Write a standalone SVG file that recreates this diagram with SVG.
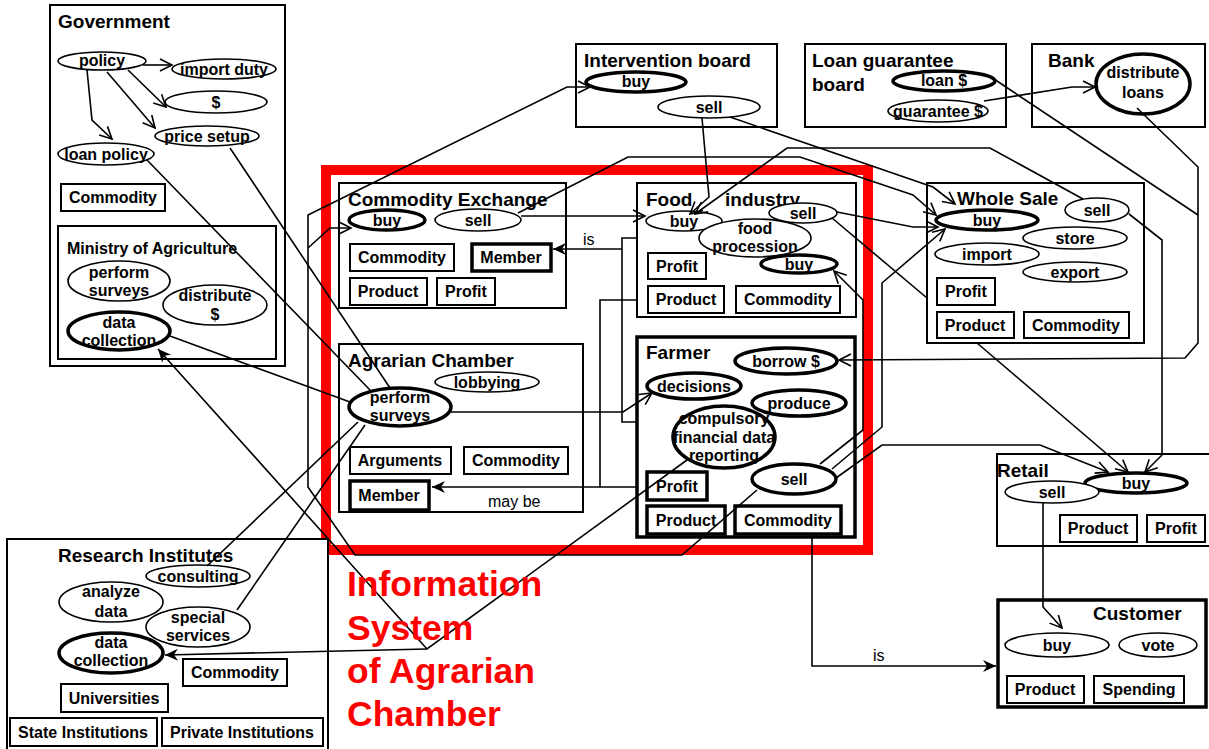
<svg xmlns="http://www.w3.org/2000/svg" width="1209" height="749" viewBox="0 0 1209 749">
<defs>
<style>
.box{fill:#fff;stroke:#000;stroke-width:2}
.tbox{fill:#fff;stroke:#000;stroke-width:3.5}
.el{fill:#fff;stroke:#000;stroke-width:1.6}
.tel{fill:#fff;stroke:#000;stroke-width:3.5}
text{font-family:"Liberation Sans",Arial,sans-serif}
.t{font-weight:bold;font-size:16px;text-anchor:middle}
.h{font-weight:bold;font-size:19px}
.h2{font-weight:bold;font-size:16px}
.lbl{font-size:16px}
.c{fill:none;stroke:#000;stroke-width:1.6}
.va{marker-end:url(#v)}
.sa{marker-end:url(#s)}
.red{fill:#f00;font-weight:bold;font-size:35.5px}
</style>
<marker id="v" viewBox="-14 -8 16 16" refX="0" refY="0" markerWidth="16" markerHeight="16" orient="auto" markerUnits="userSpaceOnUse">
<path d="M-12,-6 L0,0 L-12,6" fill="none" stroke="#000" stroke-width="1.6"/>
</marker>
<marker id="s" viewBox="-15 -8 16 16" refX="0" refY="0" markerWidth="16" markerHeight="16" orient="auto" markerUnits="userSpaceOnUse">
<path d="M0,0 L-13,-6 L-9,0 L-13,6 Z" fill="#000"/>
</marker>
</defs>
<rect width="1209" height="749" fill="#fff"/>

<!-- information system boundary -->
<rect id="is-frame" x="326" y="170" width="542" height="380" fill="none" stroke="#f00" stroke-width="10"/>

<g id="government">
<rect class="box" x="50" y="5" width="235" height="361"/>
<text class="h" x="58" y="28">Government</text>
<ellipse class="el" cx="102" cy="61" rx="44" ry="9"/><text class="t" x="102" y="66">policy</text>
<ellipse class="el" cx="224" cy="69" rx="52" ry="10"/><text class="t" x="224" y="75">import duty</text>
<ellipse class="el" cx="216" cy="102" rx="51" ry="11"/><text class="t" x="216" y="108">$</text>
<ellipse class="el" cx="207" cy="136" rx="52" ry="10"/><text class="t" x="207" y="142">price setup</text>
<ellipse class="el" cx="106" cy="154" rx="48" ry="11"/><text class="t" x="106" y="160">loan policy</text>
<rect class="box" x="61" y="184" width="104" height="27"/><text class="t" x="113" y="203">Commodity</text>
</g>

<g id="ministry">
<rect class="box" x="58" y="226" width="218" height="133"/>
<text class="h2" x="67" y="254">Ministry of Agriculture</text>
<ellipse class="el" cx="119" cy="281" rx="51" ry="20"/><text class="t" x="119" y="278">perform</text><text class="t" x="119" y="296">surveys</text>
<ellipse class="el" cx="215" cy="305" rx="52" ry="20"/><text class="t" x="215" y="301">distribute</text><text class="t" x="215" y="320">$</text>
<ellipse class="tel" cx="119" cy="331" rx="51" ry="19"/><text class="t" x="119" y="328">data</text><text class="t" x="119" y="346">collection</text>
</g>

<g id="intervention-board">
<rect class="box" x="576" y="44" width="201" height="83"/>
<text class="h" x="584" y="67">Intervention board</text>
<ellipse class="tel" cx="636" cy="82" rx="50" ry="10"/><text class="t" x="636" y="87">buy</text>
<ellipse class="el" cx="709" cy="107" rx="51" ry="11"/><text class="t" x="709" y="113">sell</text>
</g>

<g id="loan-guarantee-board">
<rect class="box" x="805" y="44" width="201" height="83"/>
<text class="h" x="812" y="67">Loan guarantee</text>
<text class="h" x="812" y="91">board</text>
<ellipse class="tel" cx="944" cy="81" rx="51" ry="10"/><text class="t" x="944" y="86">loan $</text>
<ellipse class="el" cx="938" cy="111" rx="50" ry="11"/><text class="t" x="938" y="117">guarantee $</text>
</g>

<g id="bank">
<rect class="box" x="1032" y="44" width="173" height="83"/>
<text class="h" x="1048" y="67">Bank</text>
<ellipse class="tel" cx="1143" cy="84" rx="47" ry="30"/><text class="t" x="1143" y="78">distribute</text><text class="t" x="1143" y="98">loans</text>
</g>

<g id="commodity-exchange">
<rect class="box" x="339" y="183" width="227" height="125"/>
<text class="h" x="348" y="206">Commodity Exchange</text>
<ellipse class="tel" cx="387" cy="220" rx="38" ry="10"/><text class="t" x="387" y="226">buy</text>
<ellipse class="el" cx="478" cy="220" rx="43" ry="11"/><text class="t" x="478" y="226">sell</text>
<rect class="box" x="350" y="244" width="104" height="27"/><text class="t" x="402" y="263">Commodity</text>
<rect class="tbox" x="472" y="244" width="79" height="27"/><text class="t" x="511" y="263">Member</text>
<rect class="box" x="350" y="278" width="77" height="27"/><text class="t" x="388" y="297">Product</text>
<rect class="box" x="437" y="278" width="58" height="27"/><text class="t" x="466" y="297">Profit</text>
</g>

<g id="agrarian-chamber">
<rect class="box" x="339" y="344" width="244" height="168"/>
<text class="h" x="348" y="367">Agrarian Chamber</text>
<ellipse class="el" cx="487" cy="382" rx="52" ry="10"/><text class="t" x="487" y="388">lobbying</text>
<ellipse class="tel" cx="400" cy="407" rx="51" ry="19"/><text class="t" x="400" y="403">perform</text><text class="t" x="400" y="421">surveys</text>
<rect class="box" x="350" y="447" width="101" height="27"/><text class="t" x="400" y="466">Arguments</text>
<rect class="box" x="464" y="447" width="104" height="27"/><text class="t" x="516" y="466">Commodity</text>
<rect class="tbox" x="350" y="481" width="79" height="29"/><text class="t" x="389" y="501">Member</text>
</g>

<g id="food-industry">
<rect class="box" x="637" y="183" width="219" height="134"/>
<text class="h" x="646" y="206">Food</text>
<text class="h" x="725" y="206">industry</text>
<ellipse class="el" cx="684" cy="221" rx="38" ry="10"/><text class="t" x="684" y="227">buy</text>
<ellipse class="el" cx="755" cy="238" rx="56" ry="19"/><text class="t" x="755" y="234">food</text><text class="t" x="755" y="252">procession</text>
<ellipse class="el" cx="803" cy="213" rx="34" ry="10"/><text class="t" x="803" y="219">sell</text>
<ellipse class="tel" cx="799" cy="264" rx="38" ry="9"/><text class="t" x="799" y="270">buy</text>
<rect class="box" x="648" y="253" width="58" height="26"/><text class="t" x="677" y="272">Profit</text>
<rect class="box" x="648" y="286" width="76" height="27"/><text class="t" x="686" y="305">Product</text>
<rect class="box" x="736" y="286" width="104" height="27"/><text class="t" x="788" y="305">Commodity</text>
</g>

<g id="farmer">
<rect class="tbox" x="637" y="337" width="218" height="200"/>
<text class="h" x="646" y="359">Farmer</text>
<ellipse class="tel" cx="786" cy="361" rx="51" ry="13"/><text class="t" x="786" y="367">borrow $</text>
<ellipse class="tel" cx="694" cy="386" rx="47" ry="13"/><text class="t" x="694" y="392">decisions</text>
<ellipse class="tel" cx="724" cy="437" rx="51" ry="31"/><text class="t" x="724" y="424">compulsory</text><text class="t" x="724" y="443">financial data</text><text class="t" x="724" y="461">reporting</text>
<ellipse class="tel" cx="799" cy="403" rx="47" ry="13"/><text class="t" x="799" y="409">produce</text>
<ellipse class="tel" cx="794" cy="479" rx="42" ry="15"/><text class="t" x="794" y="485">sell</text>
<rect class="tbox" x="647" y="472" width="60" height="28"/><text class="t" x="677" y="492">Profit</text>
<rect class="tbox" x="647" y="506" width="78" height="28"/><text class="t" x="686" y="526">Product</text>
<rect class="tbox" x="735" y="506" width="106" height="28"/><text class="t" x="788" y="526">Commodity</text>
</g>

<g id="whole-sale">
<rect class="box" x="927" y="183" width="217" height="160"/>
<text class="h" x="957" y="205">Whole Sale</text>
<ellipse class="tel" cx="987" cy="220" rx="51" ry="10"/><text class="t" x="987" y="226">buy</text>
<ellipse class="el" cx="1097" cy="210" rx="32" ry="12"/><text class="t" x="1097" y="216">sell</text>
<ellipse class="el" cx="1075" cy="238" rx="52" ry="11"/><text class="t" x="1075" y="244">store</text>
<ellipse class="el" cx="987" cy="254" rx="52" ry="11"/><text class="t" x="987" y="260">import</text>
<ellipse class="el" cx="1075" cy="272" rx="52" ry="10"/><text class="t" x="1075" y="278">export</text>
<rect class="box" x="937" y="278" width="58" height="27"/><text class="t" x="966" y="297">Profit</text>
<rect class="box" x="937" y="312" width="77" height="26"/><text class="t" x="975" y="331">Product</text>
<rect class="box" x="1024" y="312" width="105" height="26"/><text class="t" x="1076" y="331">Commodity</text>
</g>

<g id="retail">
<rect class="box" x="997" y="454" width="220" height="92"/>
<text class="h" x="997" y="477">Retail</text>
<ellipse class="tel" cx="1136" cy="483" rx="51" ry="10"/><text class="t" x="1136" y="489">buy</text>
<ellipse class="el" cx="1052" cy="492" rx="47" ry="11"/><text class="t" x="1052" y="498">sell</text>
<rect class="box" x="1060" y="515" width="77" height="27"/><text class="t" x="1098" y="534">Product</text>
<rect class="box" x="1147" y="515" width="58" height="27"/><text class="t" x="1176" y="534">Profit</text>
</g>

<g id="customer">
<rect class="tbox" x="998" y="600" width="208" height="107"/>
<text class="h" x="1093" y="620">Customer</text>
<ellipse class="el" cx="1057" cy="645" rx="52" ry="12"/><text class="t" x="1057" y="651">buy</text>
<ellipse class="el" cx="1158" cy="645" rx="39" ry="12"/><text class="t" x="1158" y="651">vote</text>
<rect class="box" x="1007" y="676" width="77" height="27"/><text class="t" x="1045" y="695">Product</text>
<rect class="box" x="1094" y="676" width="90" height="27"/><text class="t" x="1139" y="695">Spending</text>
</g>

<g id="research-institutes">
<rect class="box" x="7" y="539" width="321" height="212"/>
<text class="h" x="58" y="562">Research Institutes</text>
<ellipse class="el" cx="198" cy="576" rx="52" ry="11"/><text class="t" x="198" y="582">consulting</text>
<ellipse class="el" cx="111" cy="602" rx="52" ry="20"/><text class="t" x="111" y="597">analyze</text><text class="t" x="111" y="617">data</text>
<ellipse class="el" cx="198" cy="627" rx="52" ry="20"/><text class="t" x="198" y="623">special</text><text class="t" x="198" y="641">services</text>
<ellipse class="tel" cx="111" cy="653" rx="52" ry="20"/><text class="t" x="111" y="648">data</text><text class="t" x="111" y="666">collection</text>
<rect class="box" x="183" y="659" width="104" height="27"/><text class="t" x="235" y="678">Commodity</text>
<rect class="box" x="61" y="684" width="107" height="28"/><text class="t" x="114" y="704">Universities</text>
<rect class="box" x="10" y="718" width="147" height="28"/><text class="t" x="83" y="738">State Institutions</text>
<rect class="box" x="162" y="718" width="161" height="28"/><text class="t" x="242" y="738">Private Institutions</text>
</g>

<g id="connectors">
<!-- government policy -->
<path class="c va" d="M143,65 L172,65"/>
<path class="c va" d="M128,70 L166,107"/>
<path class="c va" d="M107,72 L155,128"/>
<path class="c va" d="M87,70 L92,120 L112,139"/>
<!-- into agrarian surveys -->
<path class="c" d="M147,160 L370,390"/>
<path class="c" d="M230,148 L390,388"/>
<path class="c" d="M170,336 L350,402"/>
<!-- surveys out -->
<path class="c" d="M358,422 L207,566"/>
<path class="c" d="M365,425 L237,610"/>
<path class="c va" d="M451,412 L623,412 L652,393"/>
<!-- financial data reporting -->
<path class="c sa" d="M687,460 L427,649 L158,349"/>
<path class="c sa" d="M427,649 L165,655"/>
<!-- farmer sell to exchange and intervention -->
<path class="c va" d="M757,490 L682,555 L355,555 L308,487 L308,215 L567,87 L590,87"/>
<path class="c va" d="M308,248 L330,228 L351,228"/>
<!-- exchange sell -->
<path class="c va" d="M521,216 L645,216"/>
<path class="c va" d="M518,213 L628,157 L800,157 L913,195 L936,215"/>
<!-- intervention sell -->
<path class="c va" d="M702,118 L709,197 L690,214"/>
<path class="c va" d="M730,117 L933,187 L955,204"/>
<!-- wholesale sell to food buy -->
<path class="c va" d="M1083,199 L990,148 L787,148 L695,214"/>
<!-- food sell -->
<path class="c va" d="M837,212 L913,227 L938,227"/>
<path class="c" d="M832,218 L927,298"/>
<!-- wholesale to retail -->
<path class="c va" d="M977,343 L1128,472"/>
<path class="c va" d="M1129,214 L1162,240 L1162,455 L1145,472"/>
<!-- farmer sell -->
<path class="c va" d="M820,464 L863,430 L863,300 L834,271"/>
<path class="c va" d="M832,469 L882,427 L882,283 L945,229"/>
<path class="c va" d="M836,478 L882,445 L1040,445 L1108,472"/>
<!-- retail to customer -->
<path class="c va" d="M1043,503 L1043,607 L1062,628"/>
<path class="c sa" d="M812,534 L812,666 L996,666"/>
<text class="lbl" x="873" y="661">is</text>
<!-- membership -->
<path class="c" d="M637,238 L622,238 L622,422 L637,422"/>
<path class="c sa" d="M622,249 L553,249"/>
<text class="lbl" x="583" y="245">is</text>
<path class="c" d="M637,300 L600,300 L600,487"/>
<path class="c sa" d="M637,487 L432,487"/>
<text class="lbl" x="488" y="507">may be</text>
<!-- loans -->
<path class="c" d="M994,79 L1198,215"/>
<path class="c va" d="M1137,108 L1198,167 L1198,343 L1185,358 L839,360"/>
<path class="c va" d="M984,101 L1072,87 L1095,87"/>
</g>

<g id="caption">
<text class="red" x="347" y="596">Information</text>
<text class="red" x="347" y="640">System</text>
<text class="red" x="347" y="683">of Agrarian</text>
<text class="red" x="347" y="726">Chamber</text>
</g>
</svg>
